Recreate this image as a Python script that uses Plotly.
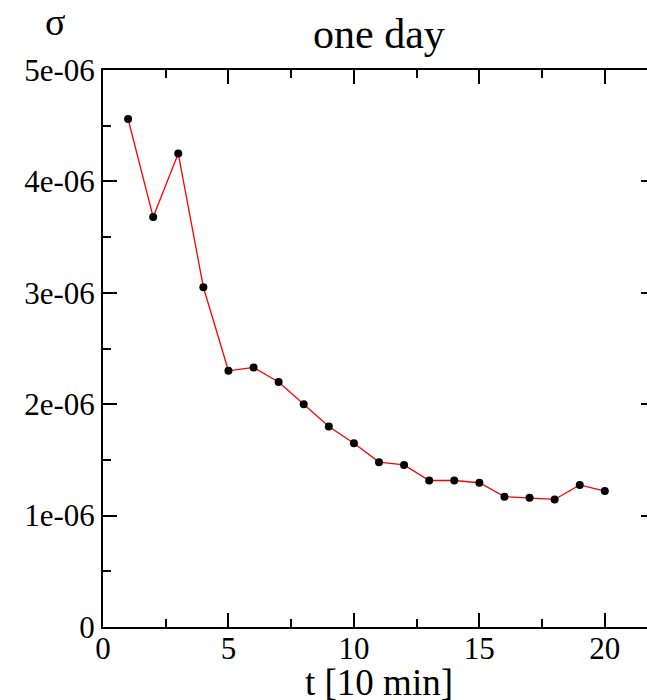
import plotly.graph_objects as go

t_values = [1, 2, 3, 4, 5, 6, 7, 8, 9, 10, 11, 12, 13, 14, 15, 16, 17, 18, 19, 20]
sigma_values = [4.56e-6, 3.68e-6, 4.25e-6, 3.05e-6, 2.30e-6, 2.33e-6, 2.20e-6, 2.00e-6,
                1.80e-6, 1.65e-6, 1.48e-6, 1.455e-6, 1.315e-6, 1.315e-6, 1.295e-6,
                1.17e-6, 1.16e-6, 1.145e-6, 1.275e-6, 1.22e-6]
y_tick_vals = [0, 1e-6, 2e-6, 3e-6, 4e-6, 5e-6]
y_tick_text = ["0", "1e-06", "2e-06", "3e-06", "4e-06", "5e-06"]
x_tick_vals = [0, 5, 10, 15, 20]
x_tick_text = ["0", "5", "10", "15", "20"]
title_text = "one day"
x_label = "t [10 min]"
y_label = "σ"

FONT = "Liberation Serif"

fig = go.Figure()
fig.add_trace(go.Scatter(
    x=t_values, y=sigma_values, mode="lines+markers",
    line=dict(color="#ff0000", width=1.3),
    marker=dict(color="black", size=8),
    showlegend=False,
))

axis_common = dict(
    showgrid=False, zeroline=False, showline=True, linecolor="black", linewidth=2,
    mirror="ticks", ticks="inside", ticklen=14, tickwidth=1.5, tickcolor="black",
    tickfont=dict(family=FONT, size=31, color="black"),
)

fig.update_xaxes(
    range=[0, 22], tickmode="array", tickvals=x_tick_vals, ticktext=x_tick_text,
    ticklabelstandoff=-7,
    minor=dict(ticks="inside", ticklen=8, tickwidth=1.5, tickcolor="black", dtick=2.5, tick0=0),
    **axis_common,
)
fig.update_yaxes(
    range=[0, 5e-6], tickmode="array", tickvals=y_tick_vals, ticktext=y_tick_text,
    minor=dict(ticks="inside", ticklen=8, tickwidth=1.5, tickcolor="black", dtick=0.5e-6, tick0=0),
    **axis_common,
)

fig.update_layout(
    width=660, height=700,
    margin=dict(l=103, r=3, t=70, b=73),
    paper_bgcolor="white", plot_bgcolor="white",
    annotations=[
        dict(text=title_text, xref="paper", yref="paper", x=0.5, y=1, yshift=36,
             xanchor="center", yanchor="middle", showarrow=False,
             font=dict(family=FONT, size=42, color="black")),
        dict(text=y_label, xref="paper", yref="paper", x=-0.0866, y=1, yshift=48,
             xanchor="center", yanchor="middle", showarrow=False,
             font=dict(family=FONT, size=38, color="black")),
        dict(text=x_label, xref="paper", yref="paper", x=0.5, y=0, yshift=-55,
             xanchor="center", yanchor="middle", showarrow=False,
             font=dict(family=FONT, size=37, color="black")),
    ],
)

fig.write_html("out.html")
